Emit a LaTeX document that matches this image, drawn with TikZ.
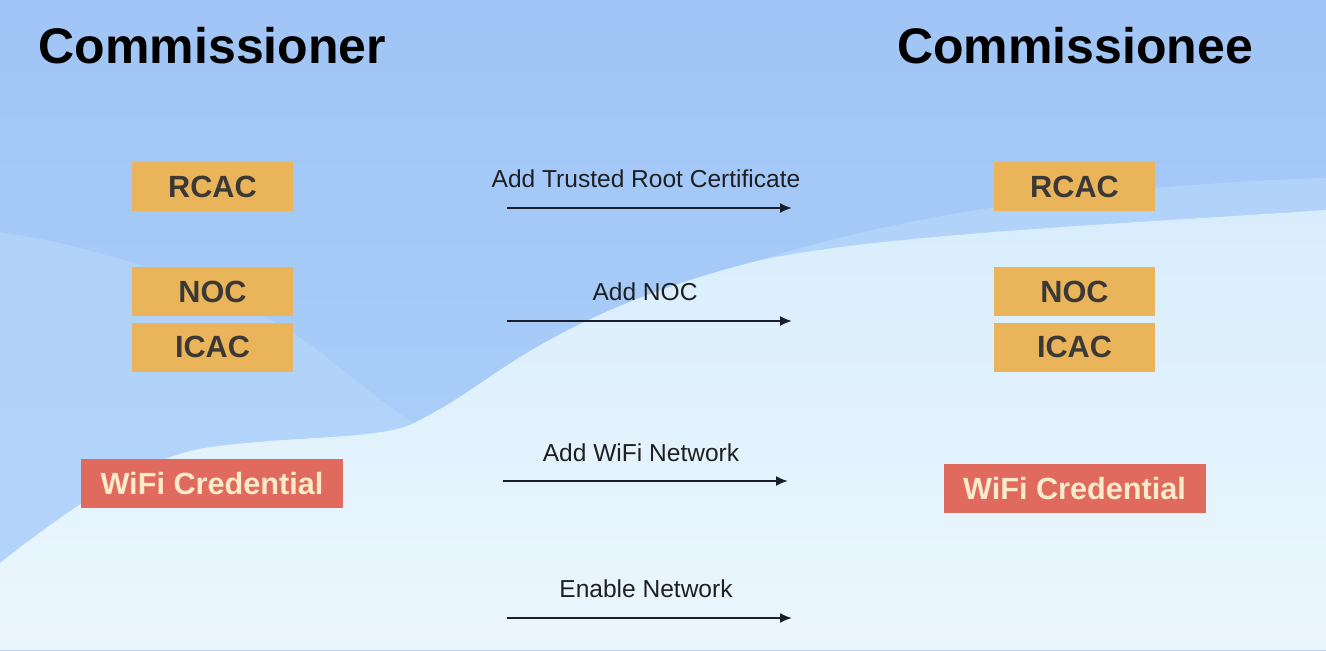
\documentclass[tikz,border=0pt]{standalone}
\usepackage{fontspec}
\setmainfont{Liberation Sans}
\usetikzlibrary{arrows.meta}

\definecolor{skytop}{HTML}{A0C5F6}
\definecolor{skylow}{HTML}{AED1FA}
\definecolor{midband}{HTML}{B8D8FB}
\definecolor{cloudtop}{HTML}{D8EDFC}
\definecolor{cloudlow}{HTML}{ECF7FD}
\definecolor{certorange}{HTML}{EAB45B}
\definecolor{certtext}{HTML}{3B3936}
\definecolor{credred}{HTML}{DF6A5D}
\definecolor{credtext}{HTML}{FCEBCB}
\definecolor{msgtext}{HTML}{1E1F22}
\definecolor{arrowink}{HTML}{1A1E2B}

\tikzset{every picture/.style={line width=0.75pt}}
\tikzset{
  certbox/.style={fill=certorange, minimum width=120.75pt, minimum height=36.75pt, inner sep=0pt, text=certtext, font=\bfseries\fontsize{23}{27}\selectfont},
  credbox/.style={certbox, fill=credred, text=credtext, minimum width=196.5pt},
  msglabel/.style={anchor=base, inner sep=0.75pt, text=msgtext, font=\fontsize{18.4}{22}\selectfont},
  msgarrow/.style={draw=arrowink, line width=1.5pt, -{Latex[length=9pt,width=7.5pt]}},
  sidetitle/.style={anchor=base, inner sep=0pt, font=\bfseries\fontsize{37.5}{45}\selectfont}
}

\begin{document}
\begin{tikzpicture}[x=0.75pt,y=0.75pt,yscale=-1,xscale=1]
\useasboundingbox (0,0) rectangle (1326,650);
%Background: sky
\shade[top color=skytop, bottom color=skylow] (0,0) rectangle (1326,650);
%Background: light band on the left
\fill[midband, opacity=0.6] (0,232) .. controls (120,250) and (260,300) .. (330,360) .. controls (380,400) and (400,415) .. (414,423) -- (0,563) -- cycle ;
%Background: light band on the right
\fill[midband, opacity=0.7] (761,260) .. controls (900,215) and (1100,185) .. (1326,178) -- (1326,210) .. controls (1100,225) and (880,235) .. (761,260) -- cycle ;
%Background: cloud
\shade[top color=cloudtop, bottom color=cloudlow] (0,563) .. controls (80,500) and (150,455) .. (211,447) .. controls (300,435) and (380,440) .. (414,423) .. controls (450,405) and (470,390) .. (500,370) .. controls (560,330) and (640,290) .. (761,260) .. controls (880,235) and (1100,225) .. (1326,210) -- (1326,650) -- (0,650) -- cycle ;

% Text Node
\node [sidetitle] (commissioner) at (212.5,63) {Commissioner};
% Text Node
\node [sidetitle] (commissionee) at (1075,63) {Commissionee};

%Shape: Rectangle
\node [certbox] (rcacL) at (212.5,186.5) {RCAC};
\node [certbox] (nocL) at (212.5,291.5) {NOC};
\node [certbox] (icacL) at (212.5,347) {ICAC};
\node [credbox] (wifiL) at (212,483.5) {WiFi Credential};
%Shape: Rectangle
\node [certbox] (rcacR) at (1074.5,186.5) {RCAC};
\node [certbox] (nocR) at (1074.5,291.5) {NOC};
\node [certbox] (icacR) at (1074.5,347) {ICAC};
\node [credbox] (wifiR) at (1074.5,488.5) {WiFi Credential};

%Straight Lines
\coordinate (rootS) at (507,208);
\coordinate (rootE) at (792,208);
\draw [msgarrow] (rootS) -- (rootE) ;
% Text Node
\node [msglabel] (rootMsg) at (646,187) {Add Trusted Root Certificate};
%Straight Lines
\coordinate (nocS) at (507,321);
\coordinate (nocE) at (792,321);
\draw [msgarrow] (nocS) -- (nocE) ;
% Text Node
\node [msglabel] (nocMsg) at (645,300) {Add NOC};
%Straight Lines
\coordinate (wifiS) at (503,481);
\coordinate (wifiE) at (788,481);
\draw [msgarrow] (wifiS) -- (wifiE) ;
% Text Node
\node [msglabel] (wifiMsg) at (641,461) {Add WiFi Network};
%Straight Lines
\coordinate (enableS) at (507,618);
\coordinate (enableE) at (792,618);
\draw [msgarrow] (enableS) -- (enableE) ;
% Text Node
\node [msglabel] (enableMsg) at (646,597) {Enable Network};
\end{tikzpicture}
\end{document}
